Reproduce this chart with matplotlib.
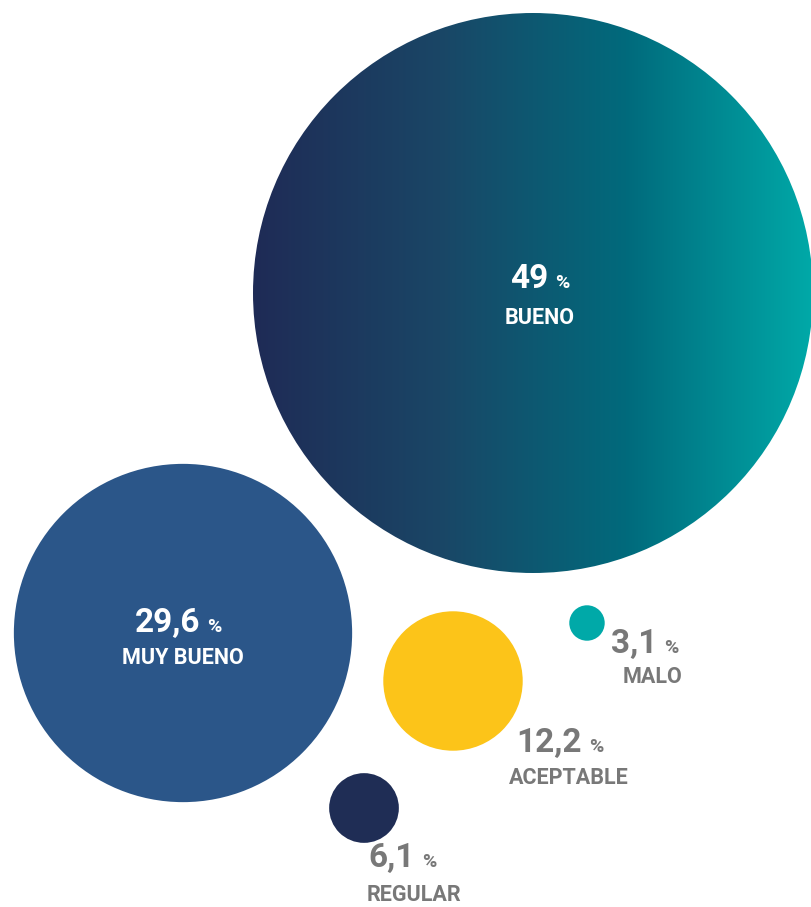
"""Bubble chart: satisfaction levels, radius proportional to percentage."""
import numpy as np
import matplotlib
matplotlib.use("Agg")
import matplotlib.pyplot as plt
from matplotlib.patches import Circle
from matplotlib.colors import LinearSegmentedColormap

plt.rcParams["font.family"] = ["Roboto", "DejaVu Sans"]

# data
labels = ["BUENO", "MUY BUENO", "ACEPTABLE", "REGULAR", "MALO"]
values = [49, 29.6, 12.2, 6.1, 3.1]
value_text = ["49", "29,6", "12,2", "6,1", "3,1"]

# layout (pixel coords, y down)
centers = [(533, 293), (183, 633), (453, 681), (364, 808), (587, 623)]
colors = [None, "#2b5689", "#fcc419", "#1f2d55", "#00a9a8"]
# number right edge, baseline, label centre x, label baseline
text_pos = [(548, 288, 540, 324), (200, 632, 183, 664), (582, 752, 569, 784),
            (415, 867, 414, 901), (657, 653, 653, 683)]
inside = [True, True, False, False, False]
PX_PER_PCT = 280 / 49

W, H = 812, 907
fig = plt.figure(figsize=(W / 100, H / 100), dpi=100)
ax = fig.add_axes([0, 0, 1, 1])
ax.set_xlim(0, W)
ax.set_ylim(H, 0)
ax.axis("off")

grad = LinearSegmentedColormap.from_list("g", ["#1f2b56", "#1a4666", "#016a7c", "#00a9a8"])

for i, v in enumerate(values):
    cx, cy = centers[i]
    r = v * PX_PER_PCT
    if colors[i] is None:
        circ = Circle((cx, cy), r, facecolor="none", edgecolor="none")
        ax.add_patch(circ)
        img = ax.imshow(np.linspace(0, 1, 256)[None, :], cmap=grad, aspect="auto",
                        extent=(cx - r, cx + r, cy + r, cy - r), zorder=1)
        img.set_clip_path(circ)
    else:
        ax.add_patch(Circle((cx, cy), r, facecolor=colors[i], edgecolor="none", zorder=1))

    nx, nb, lx, lb = text_pos[i]
    tc = "white" if inside[i] else "#787878"
    ax.text(nx, nb, value_text[i], ha="right", va="baseline", fontsize=24,
            fontweight="bold", color=tc, zorder=3)
    ax.text(nx + 7, nb, "%", ha="left", va="baseline", fontsize=14,
            fontweight="bold", color=tc, zorder=3)
    ax.text(lx, lb, labels[i], ha="center", va="baseline", fontsize=15.5,
            fontweight="bold", color=tc, zorder=3)

fig.savefig("out.png", dpi=100, facecolor="white")
